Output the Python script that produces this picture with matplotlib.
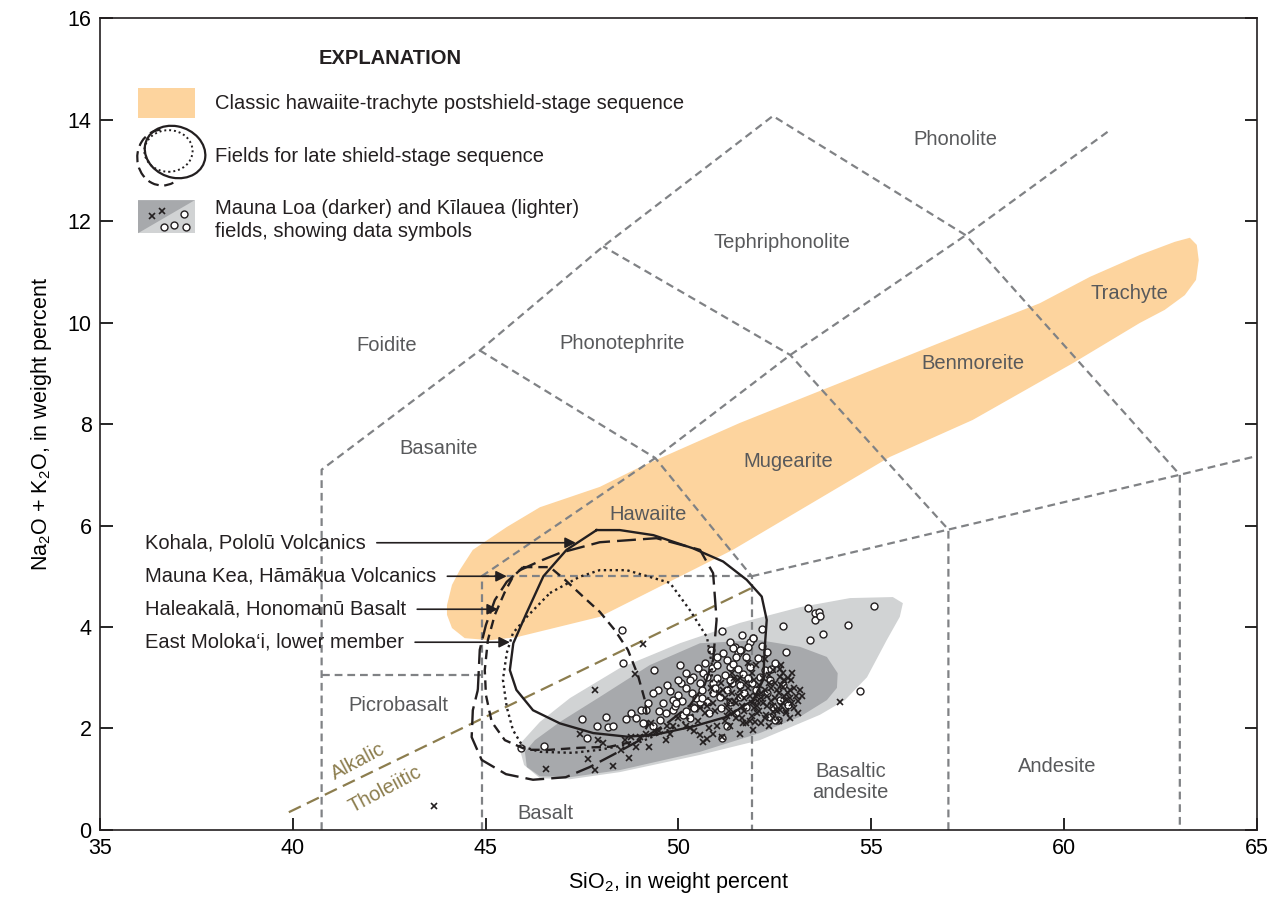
import matplotlib
matplotlib.use("Agg")
import matplotlib.pyplot as plt
from matplotlib.patches import Polygon, Ellipse, Arc

plt.rcParams['font.family'] = ['Liberation Sans Narrow', 'Liberation Sans', 'DejaVu Sans']
plt.rcParams['mathtext.default'] = 'regular'

# === TAS classification boundaries (SiO2, Na2O+K2O) ===
tas_lines = [
    [(40.75, 0), (40.75, 7.1), (44.85, 9.45), (48.05, 11.5), (52.45, 14.07),
     (57.45, 11.72), (63.0, 7.0), (63.0, 0)],
    [(40.75, 3.05), (44.9, 3.05)],
    [(44.9, 0), (44.9, 5.0), (51.9, 5.0), (51.9, 0)],
    [(51.9, 5.0), (57.0, 5.92), (63.0, 7.0), (65.0, 7.37)],
    [(57.0, 0), (57.0, 5.92), (52.9, 9.36), (48.05, 11.5)],
    [(44.9, 5.0), (49.4, 7.33), (52.9, 9.36), (57.45, 11.72), (61.15, 13.77)],
    [(44.85, 9.45), (49.4, 7.33), (51.9, 5.0)],
]
alkalic_line_x = [39.9, 51.9]
alkalic_line_y = [0.35, 4.77]

field_names = ["Foidite", "Phonotephrite", "Tephriphonolite", "Phonolite", "Trachyte",
               "Benmoreite", "Mugearite", "Hawaiite", "Basanite", "Picrobasalt",
               "Basalt", "Basaltic\nandesite", "Andesite"]
field_x = [42.44, 48.53, 52.68, 57.17, 61.70, 57.63, 52.84, 49.21, 43.79, 42.75, 46.54, 54.47, 59.81]
field_y = [9.54, 9.58, 11.57, 13.60, 10.58, 9.20, 7.27, 6.21, 7.51, 2.46, 0.33, 0.95, 1.26]

# === postshield hawaiite-trachyte field ===
orange_x = [44.0, 44.13, 44.33, 44.67, 45.55, 46.41, 47.96, 49.0, 51.59, 54.19, 56.78, 59.37,
            60.67, 61.96, 62.87, 63.26, 63.44, 63.49, 63.42, 63.13, 62.61, 61.96, 60.23, 57.63,
            55.48, 51.41, 47.96, 45.81, 45.11, 44.46, 44.13, 44.0]
orange_y = [4.43, 4.83, 5.12, 5.52, 5.97, 6.36, 6.76, 7.15, 8.02, 8.81, 9.60, 10.38,
            10.90, 11.33, 11.59, 11.67, 11.53, 11.23, 10.84, 10.54, 10.25, 9.99, 9.20, 8.08,
            7.35, 5.52, 4.20, 3.80, 3.74, 3.78, 3.98, 4.24]

# === Kilauea (light) and Mauna Loa (dark) fields ===
kil_x = [45.86, 46.41, 47.19, 48.48, 50.04, 51.59, 53.15, 54.45, 55.56, 55.82, 55.74, 55.40,
         54.89, 54.32, 53.67, 52.11, 50.56, 48.48, 47.19, 46.41, 46.0]
kil_y = [1.67, 2.13, 2.60, 3.19, 3.68, 4.08, 4.39, 4.57, 4.59, 4.47, 4.20, 3.74,
         3.01, 2.56, 2.27, 1.77, 1.48, 1.14, 1.0, 1.02, 1.28]
ml_x = [46.02, 46.07, 46.41, 47.19, 48.48, 50.56, 52.11, 53.15, 53.85, 54.11, 54.13, 53.85,
        53.15, 52.11, 50.56, 49.26, 47.96, 46.93, 46.28]
ml_y = [1.54, 1.24, 1.06, 1.04, 1.18, 1.54, 1.91, 2.23, 2.56, 2.80, 3.09, 3.41,
        3.61, 3.74, 3.68, 3.25, 2.62, 2.13, 1.77]

# === late shield-stage fields ===
kohala_x = [47.88, 48.48, 49.35, 50.38, 51.16, 51.77, 52.16, 52.29, 52.24, 52.20, 51.94, 51.25,
            50.38, 49.35, 48.65, 47.79, 46.93, 46.23, 45.80, 45.63, 45.72, 46.06, 46.50, 47.10]
kohala_y = [5.91, 5.91, 5.81, 5.55, 5.29, 4.93, 4.60, 4.14, 3.61, 2.96, 2.56, 2.23,
            2.04, 1.87, 1.84, 1.91, 2.10, 2.36, 2.76, 3.15, 3.68, 4.27, 5.0, 5.52]
maunakea_x = [44.80, 44.85, 45.01, 45.24, 45.55, 45.89, 46.41, 46.93, 47.96, 49.43, 50.56, 50.90,
              50.99, 50.90, 50.68, 50.30, 49.65, 49.0, 48.30, 47.70, 47.08, 46.23, 45.53, 44.90,
              44.64, 44.67]
maunakea_y = [2.76, 3.55, 4.04, 4.53, 4.89, 5.12, 5.30, 5.46, 5.67, 5.75, 5.52, 5.06,
              4.14, 3.35, 2.86, 2.46, 2.07, 1.77, 1.48, 1.24, 1.04, 0.99, 1.10, 1.38,
              1.83, 2.36]
haleakala_x = [45.97, 46.67, 47.06, 47.57, 47.96, 48.35, 48.69, 48.95, 49.13, 49.21, 49.0, 48.22,
               47.44, 46.67, 46.07, 45.50, 45.16, 45.01, 44.98, 45.06, 45.24, 45.50, 45.71]
haleakala_y = [5.18, 5.18, 4.93, 4.57, 4.30, 3.94, 3.55, 3.05, 2.56, 2.07, 1.77, 1.64,
               1.62, 1.58, 1.58, 1.77, 2.13, 2.66, 3.15, 3.74, 4.24, 4.69, 4.99]
molokai_x = [46.67, 47.44, 47.96, 48.66, 49.78, 50.30, 50.74, 50.87, 50.87, 50.69, 50.04, 49.0,
             47.96, 47.26, 46.41, 45.97, 45.71, 45.55, 45.45, 45.55, 45.71, 46.07]
molokai_y = [4.67, 4.99, 5.12, 5.12, 4.87, 4.33, 3.80, 3.25, 2.76, 2.46, 2.07, 1.73,
             1.58, 1.52, 1.54, 1.64, 1.97, 2.42, 2.96, 3.49, 3.88, 4.20]

field_labels = ["Kohala, Pololū Volcanics", "Mauna Kea, Hāmākua Volcanics",
                "Haleakalā, Honomanū Basalt", "East Moloka\u2018i, lower member"]
label_y = [5.66, 5.0, 4.35, 3.70]
arrow_tip_x = [47.34, 45.55, 45.32, 45.63]

# === Kilauea samples (open circles) ===
kil_pts_x = [48.53, 48.57, 49.37, 50.04, 51.12, 51.33, 52.18, 52.72, 51.93, 51.85, 51.80, 52.18,
             47.49, 48.12, 47.88, 48.18, 48.31, 47.63, 45.93, 46.52, 48.78, 48.65, 48.91, 49.04,
             49.17, 49.47, 49.34, 49.78, 49.86, 49.99, 50.08, 50.21, 50.34, 50.38, 50.56, 50.64,
             50.73, 50.86, 50.99, 51.16, 51.25, 51.33, 51.46, 51.55, 51.63, 51.76, 51.42, 51.55,
             51.68, 51.85, 50.90, 51.07, 51.25, 50.73, 51.33, 51.59, 51.76, 52.02, 52.11, 52.24,
             52.37, 52.46, 52.63, 52.85, 52.59, 52.37, 52.50, 49.52, 49.69, 49.86, 50.12, 49.09,
             49.35, 50.38, 50.56, 51.12, 51.25, 53.37, 53.54, 53.65, 53.55, 53.67, 54.40, 53.75,
             53.41, 54.70, 55.07, 51.94, 51.42, 51.59, 51.50, 52.07, 52.41, 50.20, 50.50, 50.90,
             51.00, 51.40, 51.60, 51.90, 52.00, 50.10, 50.45, 50.80, 51.10, 51.50, 49.60, 49.90,
             50.30, 49.20, 50.60, 51.80, 52.30, 52.70, 50.30, 50.70, 51.00, 51.20, 50.40, 50.00,
             49.70, 49.50, 50.95, 51.70, 52.10, 51.35, 50.60, 49.95, 52.50, 52.80, 52.30, 51.65,
             50.20, 50.85]
kil_pts_y = [3.94, 3.30, 3.16, 3.25, 3.92, 3.71, 3.96, 4.02, 3.78, 3.71, 3.61, 3.63,
             2.18, 2.22, 2.04, 2.02, 2.04, 1.81, 1.61, 1.66, 2.30, 2.18, 2.20, 2.36,
             2.37, 2.76, 2.69, 2.73, 2.56, 2.66, 2.89, 2.79, 2.69, 3.02, 2.89, 3.09,
             3.02, 3.19, 3.25, 3.48, 3.35, 3.22, 3.61, 3.48, 3.55, 3.41, 3.28, 3.18,
             3.08, 3.22, 2.69, 2.63, 2.76, 2.53, 2.53, 2.63, 2.43, 2.56, 3.02, 3.15,
             2.96, 2.43, 2.56, 2.46, 2.17, 2.23, 2.17, 2.17, 2.30, 2.36, 2.27, 2.10,
             2.04, 2.43, 2.53, 1.81, 2.04, 4.38, 4.28, 4.30, 4.14, 4.22, 4.04, 3.87,
             3.74, 2.74, 4.41, 3.79, 3.58, 3.55, 3.41, 3.38, 3.18, 3.10, 3.20, 2.90,
             3.00, 2.90, 2.85, 2.90, 2.75, 2.55, 2.60, 2.30, 2.40, 2.30, 2.50, 2.45,
             2.20, 2.50, 2.75, 3.00, 2.70, 2.85, 2.95, 3.30, 3.40, 3.05, 2.40, 2.95,
             2.85, 2.35, 2.80, 2.70, 2.60, 2.95, 2.60, 2.50, 3.30, 3.50, 3.50, 3.85,
             2.35, 3.55]

# === Mauna Loa samples (crosses) ===
ml_pts_x = [43.66, 49.07, 47.83, 48.87, 46.58, 47.83, 48.31, 48.72, 47.66, 47.44, 47.92, 48.05,
            48.52, 48.91, 49.24, 48.61, 48.78, 49.00, 49.17, 49.43, 49.78, 49.86, 49.69, 50.21,
            50.56, 50.64, 50.73, 50.90, 51.12, 51.33, 51.59, 51.68, 51.98, 52.15, 51.94, 52.28,
            52.46, 52.63, 52.80, 52.93, 52.89, 52.46, 52.63, 52.72, 54.19, 52.63, 52.24, 51.20,
            51.40, 51.50, 51.60, 51.70, 51.80, 51.90, 52.00, 52.10, 52.20, 52.30, 52.40, 52.50,
            52.60, 52.70, 52.80, 52.90, 53.00, 53.10, 53.00, 51.30, 51.50, 51.70, 51.90, 52.10,
            52.30, 52.50, 52.20, 51.90, 51.60, 51.40, 51.10, 50.90, 50.70, 50.50, 50.30, 50.00,
            49.70, 49.50, 49.30, 51.20, 51.00, 52.00, 51.80, 52.70, 52.90, 53.10, 52.60, 52.35,
            50.80, 50.40, 51.25, 51.45, 51.65, 51.85, 52.05, 52.25, 52.45, 52.65, 52.85, 53.05,
            51.35, 51.55, 51.75, 51.95, 52.15, 52.35, 52.55, 52.75, 52.95, 51.15, 51.45, 51.65,
            51.85, 52.05, 52.25, 52.45, 52.65, 52.85, 50.95, 51.25, 51.55, 51.95, 52.35, 52.75,
            53.15, 50.75, 51.05, 51.35, 51.75, 52.15, 52.55, 52.95, 50.55, 50.85, 51.45, 52.05,
            52.65, 53.20, 52.40, 52.80]
ml_pts_y = [0.47, 3.67, 2.76, 3.07, 1.20, 1.18, 1.26, 1.41, 1.39, 1.90, 1.77, 1.71,
            1.58, 1.64, 1.63, 1.77, 1.84, 1.84, 1.90, 1.93, 1.90, 2.04, 1.77, 2.04,
            1.87, 1.74, 1.80, 1.90, 1.84, 2.04, 1.90, 2.10, 2.13, 2.10, 1.97, 2.27,
            2.33, 2.36, 2.56, 2.96, 2.76, 3.15, 3.02, 2.82, 2.53, 3.17, 3.37, 2.60,
            2.70, 2.50, 2.75, 2.60, 2.80, 2.50, 2.65, 2.85, 2.50, 2.65, 2.80, 2.60,
            2.70, 2.50, 2.35, 2.60, 2.80, 2.55, 2.40, 2.35, 2.20, 2.35, 2.25, 2.35,
            2.45, 2.90, 3.00, 3.10, 3.00, 3.10, 2.90, 2.50, 2.30, 2.15, 2.00, 2.20,
            2.05, 1.95, 2.10, 2.15, 2.05, 3.25, 3.30, 3.10, 2.20, 2.30, 2.15, 2.05,
            2.00, 1.95, 2.45, 2.55, 2.45, 2.65, 2.55, 2.75, 2.45, 2.85, 2.70, 2.65,
            2.85, 2.95, 2.90, 2.40, 2.60, 2.90, 2.75, 2.65, 2.50, 2.75, 2.30, 2.20,
            2.15, 2.30, 2.20, 2.20, 2.45, 3.00, 2.35, 2.25, 2.65, 2.95, 3.05, 2.95,
            2.75, 2.45, 2.70, 2.55, 2.10, 2.70, 2.35, 3.10, 2.40, 2.80, 3.00, 2.45,
            3.25, 2.65, 2.55, 2.30]

# === explanation (legend) glyphs ===
legend_cross_x = [36.35, 36.61]
legend_cross_y = [12.10, 12.20]
legend_circle_x = [37.18, 36.66, 36.92, 37.23]
legend_circle_y = [12.14, 11.88, 11.92, 11.88]

ORANGE = "#FDD49E"
LIGHT_GRAY = "#D1D3D4"
DARK_GRAY = "#A7A9AC"
LINE_GRAY = "#808285"
OLIVE = "#8C7D4E"
TEXT_GRAY = "#58595B"
INK = "#231F20"

fig = plt.figure(figsize=(12.8, 9.06), dpi=100)
ax = fig.add_axes([0.078, 0.0839, 0.904, 0.8962])

# fields
ax.add_patch(Polygon(list(zip(orange_x, orange_y)), closed=True, fc=ORANGE, ec="none", zorder=1))
ax.add_patch(Polygon(list(zip(kil_x, kil_y)), closed=True, fc=LIGHT_GRAY, ec="none", zorder=1))
ax.add_patch(Polygon(list(zip(ml_x, ml_y)), closed=True, fc=DARK_GRAY, ec="none", zorder=1.1))

# TAS grid
for seg in tas_lines:
    xs, ys = zip(*seg)
    ax.plot(xs, ys, color=LINE_GRAY, lw=1.6, ls=(0, (3.5, 2.2)), zorder=2)
ax.plot(alkalic_line_x, alkalic_line_y, color=OLIVE, lw=1.6, ls=(0, (6, 3)), zorder=2)
ax.text(41.7, 1.36, "Alkalic", color=OLIVE, fontsize=14.5, rotation=28,
        ha="center", va="center", rotation_mode="anchor")
ax.text(42.4, 0.8, "Tholeiitic", color=OLIVE, fontsize=14.5, rotation=28,
        ha="center", va="center", rotation_mode="anchor")

for name, fx, fy in zip(field_names, field_x, field_y):
    ax.text(fx, fy, name, color=TEXT_GRAY, fontsize=14.5, ha="center", va="center",
            linespacing=1.1, zorder=3)

# samples
ax.plot(kil_pts_x, kil_pts_y, "o", ms=5, mfc="white", mec=INK, mew=1.0, zorder=4)
ax.plot(ml_pts_x, ml_pts_y, "x", ms=4.5, mec=INK, mew=1.2, zorder=4.5)

# late shield-stage fields
def closed(xs, ys):
    return list(xs) + [xs[0]], list(ys) + [ys[0]]

kx, ky = closed(kohala_x, kohala_y)
ax.plot(kx, ky, color=INK, lw=1.7, ls="-", zorder=5)
mx, my = closed(maunakea_x, maunakea_y)
ax.plot(mx, my, color=INK, lw=1.7, ls=(0, (8, 3)), zorder=5)
hx, hy = closed(haleakala_x, haleakala_y)
ax.plot(hx, hy, color=INK, lw=1.7, ls=(0, (4, 2.5)), zorder=5)
ox, oy = closed(molokai_x, molokai_y)
ax.plot(ox, oy, color=INK, lw=1.7, ls=(0, (1, 1.5)), zorder=5)

for lab, ly, tx in zip(field_labels, label_y, arrow_tip_x):
    ax.annotate(lab, xy=(tx, ly), xytext=(36.17, ly), ha="left", va="center", fontsize=14.5,
                color=INK, zorder=6,
                arrowprops=dict(arrowstyle="-|>", color=INK, lw=1.2,
                                shrinkA=6, shrinkB=0, mutation_scale=16))

# explanation
ax.text(0.2507, 0.9507, "EXPLANATION", transform=ax.transAxes, fontsize=14.5,
        fontweight="bold", ha="center", va="center", color=INK)
ax.add_patch(Polygon([(35.99, 14.03), (37.46, 14.03), (37.46, 14.62), (35.99, 14.62)],
                     closed=True, fc=ORANGE, ec="none"))
ax.text(0.0994, 0.8953, "Classic hawaiite-trachyte postshield-stage sequence",
        transform=ax.transAxes, fontsize=14.5, va="center", color=INK)
ax.add_patch(Ellipse((36.95, 13.36), 1.58, 1.02, angle=-8, fill=False, ec=INK, lw=1.6))
ax.add_patch(Ellipse((36.78, 13.38), 1.25, 0.82, fill=False, ec=INK, lw=1.4, ls=(0, (1, 1.5))))
ax.add_patch(Arc((36.62, 13.25), 1.30, 1.10, theta1=95, theta2=300, ec=INK,
                 lw=1.6, ls=(0, (5, 2.5))))
ax.text(0.0994, 0.830, "Fields for late shield-stage sequence",
        transform=ax.transAxes, fontsize=14.5, va="center", color=INK)
ax.add_patch(Polygon([(35.99, 11.76), (37.46, 11.76), (37.46, 12.41), (35.99, 12.41)],
                     closed=True, fc=LIGHT_GRAY, ec="none"))
ax.add_patch(Polygon([(35.99, 11.76), (37.46, 12.41), (35.99, 12.41)],
                     closed=True, fc=DARK_GRAY, ec="none"))
ax.plot(legend_cross_x, legend_cross_y, "x", ms=4.5, mec=INK, mew=1.2)
ax.plot(legend_circle_x, legend_circle_y, "o", ms=5, mfc="white", mec=INK, mew=1.0)
ax.text(0.0994, 0.766, "Mauna Loa (darker) and Kīlauea (lighter)",
        transform=ax.transAxes, fontsize=14.5, va="center", color=INK)
ax.text(0.0994, 0.7365, "fields, showing data symbols",
        transform=ax.transAxes, fontsize=14.5, va="center", color=INK)

# axes
ax.set_xlim(35, 65)
ax.set_ylim(0, 16)
ax.set_xticks(range(35, 66, 5))
ax.set_yticks(range(0, 17, 2))
ax.tick_params(direction="in", length=9, width=1.2, labelsize=15.5, right=True, top=False, pad=6)
for s in ax.spines.values():
    s.set_linewidth(1.2)
    s.set_color(INK)
ax.set_xlabel("SiO$_2$, in weight percent", fontsize=15.5, labelpad=8)
ax.set_ylabel("Na$_2$O + K$_2$O, in weight percent", fontsize=15.5, labelpad=10)

fig.savefig("out.png", dpi=100)
